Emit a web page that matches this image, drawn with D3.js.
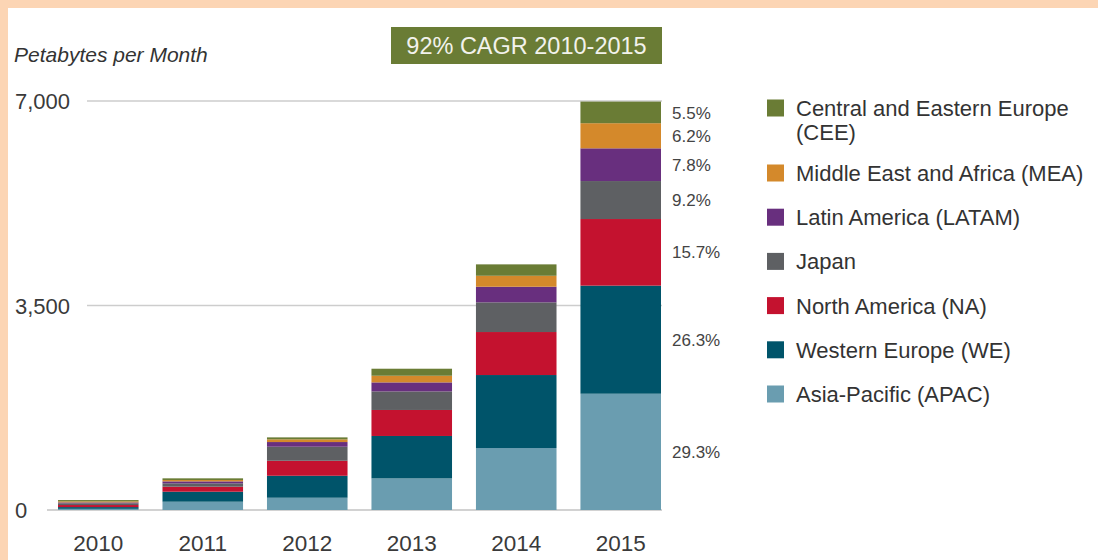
<!DOCTYPE html>
<html>
<head>
<meta charset="utf-8">
<script src="https://cdn.jsdelivr.net/npm/d3@7"></script>
<style>
    body { margin: 0; background: #fcd5b4; }
    svg { display: block; font-family: "Liberation Sans", Arial, sans-serif; }
</style>
</head>
<body>
<div id="chart_div"></div>
<script>
// Data (petabytes per month)
const years = ["2010", "2011", "2012", "2013", "2014", "2015"];
const regions = ["APAC", "WE", "NA", "Japan", "LATAM", "MEA", "CEE"];
const regionNames = [
    "Asia-Pacific (APAC)",
    "Western Europe (WE)",
    "North America (NA)",
    "Japan",
    "Latin America (LATAM)",
    "Middle East and Africa (MEA)",
    "Central and Eastern Europe (CEE)"
];
const apac = [20, 142, 210, 541, 1061, 1990];
const we = [30, 171, 376, 726, 1249, 1850];
const na = [35, 86, 257, 445, 736, 1140];
const japan = [30, 57, 240, 318, 508, 650];
const latam = [15, 34, 80, 154, 267, 560];
const mea = [18, 23, 46, 114, 188, 430];
const cee = [22, 29, 34, 120, 195, 370];
const share2015 = ["29.3%", "26.3%", "15.7%", "9.2%", "7.8%", "6.2%", "5.5%"];
const yTicks = [0, 3500, 7000];
const cagrText = "92% CAGR 2010-2015";
const yTitle = "Petabytes per Month";

const series = [apac, we, na, japan, latam, mea, cee];
const colors = ["#6a9db0", "#00546a", "#c4122f", "#5e6063", "#682f7e", "#d4892b", "#6a7c35"];

const width = 1098;
const height = 560;

const table = years.map((year, i) => {
    const row = { year: year };
    regions.forEach((r, j) => row[r] = series[j][i]);
    return row;
});

const stacked = d3.stack().keys(regions)(table);

const svg = d3.select("#chart_div")
    .append("svg")
    .attr("width", width)
    .attr("height", height);

// Frame
svg.append("rect")
    .attr("x", 8)
    .attr("y", 8)
    .attr("width", width - 8)
    .attr("height", height - 8)
    .attr("fill", "#ffffff");

// Scales
const x = d3.scaleBand()
    .domain(years)
    .range([58, 661])
    .paddingInner(0.229)
    .paddingOuter(0);

const y = d3.scaleLinear()
    .domain([0, 7000])
    .range([510, 101]);

const color = d3.scaleOrdinal()
    .domain(regions)
    .range(colors);

// Gridlines
svg.append("g")
    .selectAll("line")
    .data(yTicks.filter(d => d > 0))
    .enter()
    .append("line")
    .attr("x1", 87)
    .attr("x2", 662)
    .attr("y1", d => y(d))
    .attr("y2", d => y(d))
    .attr("stroke", "#cdcdcd")
    .attr("stroke-width", 1.5);

svg.append("line")
    .attr("x1", 47)
    .attr("x2", 662)
    .attr("y1", y(0))
    .attr("y2", y(0))
    .attr("stroke", "#d2d2d2")
    .attr("stroke-width", 2);

// Axes
const yAxis = svg.append("g")
    .attr("transform", "translate(87,0)")
    .call(d3.axisLeft(y).tickValues(yTicks).tickSize(0).tickFormat(d3.format(",")));
yAxis.select(".domain").remove();
yAxis.selectAll("text")
    .attr("x", -72)
    .attr("text-anchor", "start")
    .attr("dy", "0.36em")
    .attr("fill", "#3a3a3a")
    .style("font-size", "22px");

const xAxis = svg.append("g")
    .attr("transform", `translate(0,${y(0)})`)
    .call(d3.axisBottom(x).tickSize(0).tickPadding(25));
xAxis.select(".domain").remove();
xAxis.selectAll("text")
    .attr("fill", "#3a3a3a")
    .style("font-size", "22.5px");

// Bars
svg.append("g")
    .selectAll("g")
    .data(stacked)
    .enter()
    .append("g")
    .attr("fill", d => color(d.key))
    .selectAll("rect")
    .data(d => d)
    .enter()
    .append("rect")
    .attr("x", d => x(d.data.year))
    .attr("y", d => y(d[1]))
    .attr("height", d => y(d[0]) - y(d[1]))
    .attr("width", x.bandwidth());

// 2015 shares
const last = years.length - 1;
svg.append("g")
    .selectAll("text")
    .data(stacked)
    .enter()
    .append("text")
    .attr("x", x(years[last]) + x.bandwidth() + 11)
    .attr("y", d => (y(d[last][0]) + y(d[last][1])) / 2)
    .attr("dy", "0.36em")
    .attr("fill", "#444")
    .style("font-size", "17px")
    .text((d, i) => share2015[i]);

// Titles
svg.append("text")
    .attr("x", 14)
    .attr("y", 54)
    .attr("dy", "0.36em")
    .attr("fill", "#333")
    .style("font-size", "21px")
    .style("font-style", "italic")
    .text(yTitle);

svg.append("rect")
    .attr("x", 391)
    .attr("y", 27)
    .attr("width", 271)
    .attr("height", 37)
    .attr("fill", "#6a7c35");

svg.append("text")
    .attr("x", 526.5)
    .attr("y", 45.5)
    .attr("dy", "0.36em")
    .attr("text-anchor", "middle")
    .attr("fill", "#f2f2ec")
    .style("font-size", "23.5px")
    .text(cagrText);

// Legend (top to bottom: CEE ... APAC)
const legendOrder = d3.range(regions.length).reverse();
const ly = d3.scaleLinear().domain([1, 6]).range([173, 394]);

const legend = svg.append("g")
    .selectAll("g")
    .data(legendOrder)
    .enter()
    .append("g")
    .attr("transform", (d, i) => `translate(767,${i === 0 ? 108 : ly(i)})`);

legend.append("rect")
    .attr("x", 0)
    .attr("y", -8.5)
    .attr("width", 17)
    .attr("height", 17)
    .attr("fill", d => colors[d]);

legend.append("text")
    .attr("x", 29)
    .attr("fill", "#333")
    .style("font-size", "22px")
    .each(function (d) {
        const name = regionNames[d];
        const cut = name.indexOf(" (CEE)");
        const lines = cut > 0 ? [name.slice(0, cut), name.slice(cut + 1)] : [name];
        d3.select(this).selectAll("tspan")
            .data(lines)
            .enter()
            .append("tspan")
            .attr("x", 29)
            .attr("y", (l, k) => k * 24)
            .attr("dy", "0.36em")
            .text(l => l);
    });
</script>
</body>
</html>
